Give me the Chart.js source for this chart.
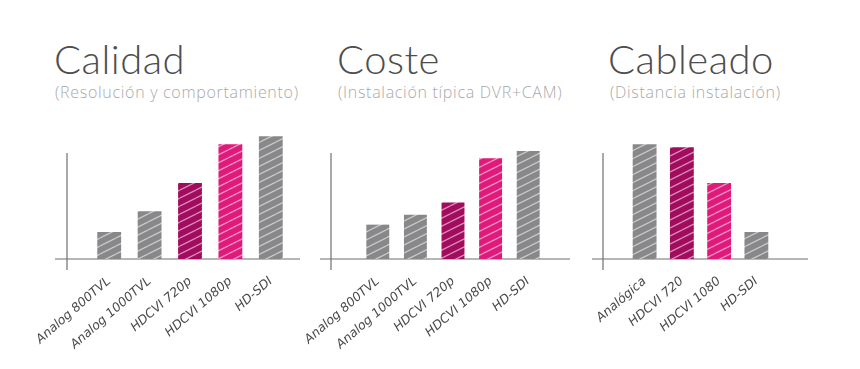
<!DOCTYPE html>
<html lang="es">
<head>
<meta charset="UTF-8">
<title>Calidad / Coste / Cableado</title>
<script src="https://cdn.jsdelivr.net/npm/chart.js"></script>
<style>
    body { margin: 0; background: #fff; width: 860px; height: 369px; position: relative; overflow: hidden; }
    .title { position: absolute; font-family: Lato, "Open Sans", sans-serif; font-weight: 300; font-size: 40px; color: #4d4d4d; top: 35px; white-space: nowrap; letter-spacing: 0.5px; }
    .sub { position: absolute; font-family: "Open Sans", Lato, sans-serif; font-weight: 300; font-size: 16px; letter-spacing: 0.7px; color: #a9a9a9; top: 81px; white-space: nowrap; }
    .panel { position: absolute; top: 110px; height: 259px; }
</style>
</head>
<body>
<div class="title" style="left:54px">Calidad</div>
<div class="sub" style="left:55px">(Resolución y comportamiento)</div>
<div class="title" style="left:337px">Coste</div>
<div class="sub" style="left:338px">(Instalación típica DVR+CAM)</div>
<div class="title" style="left:608px">Cableado</div>
<div class="sub" style="left:610px">(Distancia instalación)</div>

<div class="panel" style="left:20px;width:290px"><canvas id="c1"></canvas></div>
<div class="panel" style="left:290px;width:290px"><canvas id="c2"></canvas></div>
<div class="panel" style="left:570px;width:270px"><canvas id="c3"></canvas></div>

<script>
    // datos (escala relativa 0-11)
    const calidadLabels = ["Analog 800TVL", "Analog 1000TVL", "HDCVI 720p", "HDCVI 1080p", "HD-SDI"];
    const calidadValues = [2.2, 3.9, 6.2, 9.35, 10];

    const costeLabels = ["Analog 800TVL", "Analog 1000TVL", "HDCVI 720p", "HDCVI 1080p", "HD-SDI"];
    const costeValues = [2.8, 3.6, 4.6, 8.2, 8.8];

    const cableadoLabels = ["Analógica", "HDCVI 720", "HDCVI 1080", "HD-SDI"];
    const cableadoValues = [9.35, 9.1, 6.2, 2.2];

    const GRAY = '#88888b', DARK = '#a20c5f', PINK = '#e01a7b';

    // trama "a mano" para las barras
    function scribble(color) {
        const c = document.createElement('canvas');
        c.width = 16; c.height = 8;
        const g = c.getContext('2d');
        g.fillStyle = color;
        g.fillRect(0, 0, 16, 8);
        g.strokeStyle = 'rgba(255,255,255,0.55)';
        g.lineWidth = 1.3;
        for (let k = -8; k <= 16; k += 8) {
            g.beginPath();
            g.moveTo(0, 8 + k);
            g.lineTo(16, k);
            g.stroke();
        }
        return g.createPattern(c, 'repeat');
    }

    const sketchAxes = {
        id: 'sketchAxes',
        beforeDatasetsDraw(chart, args, opts) {
            const ctx = chart.ctx;
            const a = chart.chartArea;
            const y0 = chart.scales.y.getPixelForValue(0);
            ctx.save();
            ctx.strokeStyle = '#6f6f6f';
            ctx.lineWidth = 1.2;
            ctx.beginPath();
            ctx.moveTo(a.left - opts.axisGap, y0 - 106);
            ctx.lineTo(a.left - opts.axisGap, y0 + 11);
            ctx.stroke();
            ctx.beginPath();
            ctx.moveTo(a.left - opts.baseStart, y0);
            ctx.lineTo(a.right + opts.baseEnd, y0);
            ctx.stroke();
            ctx.restore();
        }
    };

    function makeChart(id, labels, values, colors, pad, gap, bar) {
        new Chart(document.getElementById(id), {
            type: 'bar',
            data: {
                labels: labels,
                datasets: [{
                    data: values,
                    backgroundColor: colors.map(scribble),
                    borderWidth: 0,
                    categoryPercentage: 1,
                    barPercentage: bar
                }]
            },
            options: {
                responsive: true,
                maintainAspectRatio: false,
                animation: false,
                layout: { padding: pad },
                plugins: {
                    legend: { display: false },
                    tooltip: { enabled: false },
                    sketchAxes: gap
                },
                scales: {
                    y: { display: false, min: 0, max: 11 },
                    x: {
                        grid: { display: false },
                        border: { display: false },
                        afterFit: s => { s.height = 110; s.paddingLeft = 0; s.paddingRight = 0; },
                        ticks: {
                            autoSkip: false,
                            minRotation: 41,
                            maxRotation: 41,
                            padding: 7,
                            color: '#4a4a4a',
                            font: { family: 'DejaVu Sans', style: 'italic', size: 12.5 }
                        }
                    }
                }
            },
            plugins: [sketchAxes]
        });
    }

    makeChart('c1', calidadLabels, calidadValues, [GRAY, GRAY, DARK, PINK, GRAY],
        { left: 69, right: 19, top: 14, bottom: 0 }, { axisGap: 22, baseStart: 34, baseEnd: 9 }, 0.59);
    makeChart('c2', costeLabels, costeValues, [GRAY, GRAY, DARK, PINK, GRAY],
        { left: 69, right: 33, top: 14, bottom: 0 }, { axisGap: 28, baseStart: 39, baseEnd: 23 }, 0.61);
    makeChart('c3', cableadoLabels, cableadoValues, [GRAY, DARK, PINK, GRAY],
        { left: 56, right: 65, top: 14, bottom: 0 }, { axisGap: 23, baseStart: 34, baseEnd: 33 }, 0.64);
</script>
</body>
</html>
